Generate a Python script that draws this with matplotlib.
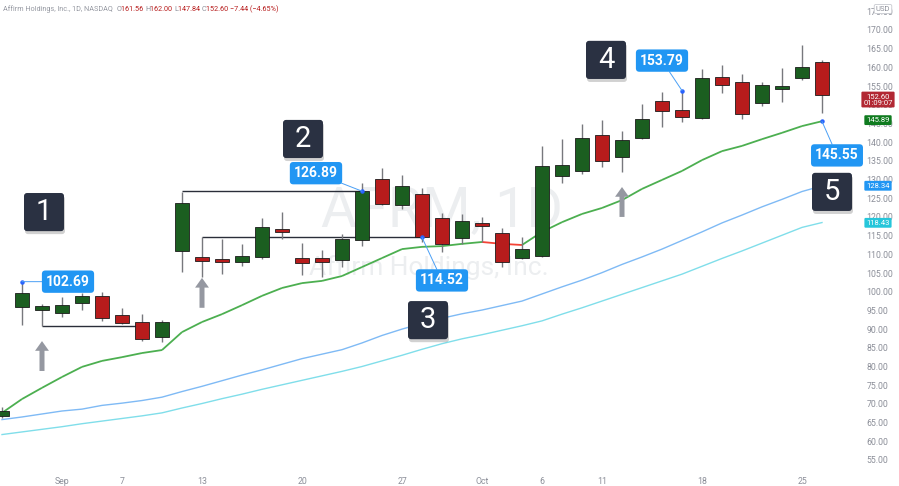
import matplotlib
matplotlib.use("Agg")
import matplotlib.pyplot as plt
import numpy as np
from matplotlib.collections import LineCollection
from matplotlib.patches import FancyBboxPatch

plt.rcParams["font.family"] = ["Roboto", "DejaVu Sans"]

# AFRM daily bars, 27 Aug - 26 Oct 2021
opens = [66.8, 95.9, 95.1, 94.4, 97.1, 98.9, 93.8, 92.0, 88.0, 110.9,
         109.2, 108.8, 107.9, 109.2, 116.9, 108.9, 109.1, 108.5, 113.8, 130.1,
         123.1, 126.1, 119.8, 114.5, 118.3, 115.8, 109.1, 109.6, 131.0, 132.3,
         142.0, 136.1, 141.2, 151.1, 148.6, 146.55, 157.4, 156.2, 150.55, 154.1,
         157.1, 161.56]
highs = [69.2, 102.69, 96.6, 98.6, 99.7, 99.9, 95.6, 94.0, 92.4, 126.7,
         114.52, 114.0, 112.7, 119.8, 121.2, 113.0, 111.2, 115.4, 129.0, 133.0,
         131.2, 127.7, 121.1, 120.7, 119.9, 117.1, 114.7, 139.0, 140.8, 144.8,
         145.9, 143.0, 150.2, 153.5, 153.79, 159.6, 160.6, 158.2, 156.2, 159.8,
         166.0, 162.0]
lows = [66.2, 91.1, 90.83, 93.2, 95.1, 92.3, 91.4, 86.9, 86.6, 105.4,
        104.0, 104.8, 106.9, 108.8, 114.0, 104.5, 104.0, 106.7, 112.2, 123.1,
        122.1, 113.4, 110.7, 112.8, 113.4, 106.7, 108.7, 109.4, 129.2, 131.5,
        133.4, 131.9, 140.8, 144.1, 145.5, 146.3, 153.2, 146.1, 149.8, 150.7,
        156.6, 147.84]
closes = [68.0, 99.7, 96.3, 96.5, 98.9, 92.9, 91.6, 87.4, 92.0, 123.6,
          108.3, 107.9, 109.5, 117.4, 116.1, 107.6, 107.9, 114.0, 126.89, 123.4,
          128.3, 114.52, 112.8, 119.0, 117.7, 107.9, 111.4, 133.6, 133.8, 141.1,
          135.0, 140.6, 146.1, 148.4, 146.6, 157.1, 155.2, 147.6, 155.2, 155.0,
          160.04, 152.6]

# moving averages
ma_fast = [67.6, 71.3, 74.3, 77.2, 79.9, 81.5, 82.5, 83.6, 84.4, 89.2,
           91.9, 94.0, 96.4, 98.9, 101.0, 102.3, 102.9, 104.2, 106.6, 109.0,
           111.4, 112.0, 112.2, 112.8, 113.3, 112.8, 112.5, 116.0, 118.6, 120.8,
           122.4, 124.5, 127.5, 129.9, 132.3, 135.2, 137.6, 139.0, 140.8, 142.5,
           144.3, 145.6]
ma_mid = [65.8, 66.5, 67.3, 68.1, 68.6, 69.6, 70.2, 70.9, 71.8, 73.3,
          74.7, 76.2, 77.7, 79.1, 80.6, 82.1, 83.3, 84.5, 86.3, 88.3,
          90.0, 91.5, 92.9, 94.1, 95.1, 96.3, 97.5, 99.4, 101.3, 103.1,
          105.1, 107.3, 109.3, 111.4, 113.7, 116.0, 118.4, 120.5, 122.7, 124.7,
          126.8, 128.3]
ma_slow = [61.8, 62.5, 63.2, 63.9, 64.7, 65.4, 66.1, 66.8, 67.6, 68.9,
           70.1, 71.4, 72.6, 73.9, 75.1, 76.3, 77.5, 78.7, 80.0, 81.5,
           83.0, 84.6, 86.1, 87.4, 88.5, 89.7, 90.9, 92.2, 94.0, 95.7,
           97.5, 99.3, 101.1, 102.9, 104.7, 106.8, 108.9, 110.9, 113.0, 115.1,
           117.2, 118.5]

tick_bars = [3, 6, 10, 15, 20, 24, 27, 30, 35, 40]
tick_labels = ["Sep", "7", "13", "20", "27", "Oct", "6", "11", "18", "25"]

# drawn levels: start bar, end bar, price
level_start = [2, 9, 10]
level_end = [7, 18, 21]
level_price = [90.83, 126.89, 114.52]

# price callouts
callout_bar = [1, 18, 21, 34, 41]
callout_price = [102.69, 126.89, 114.52, 153.79, 145.55]
callout_offset = [(46, 0), (-46, 18), (20, -43), (-20, 30), (15, -34)]  # pixels

# numbered boxes (bar, price)
step_labels = ["1", "2", "3", "4", "5"]
step_bar = [2.1, 15.05, 21.3, 30.2, 41.5]
step_price = [121.3, 140.85, 92.4, 162.0, 126.7]

# up arrows (bar, top, bottom)
arrow_bar = [2, 10, 31]
arrow_top = [86.8, 103.7, 128.0]
arrow_bottom = [78.8, 95.7, 120.0]

# right scale value tags
tag_text = ["152.60\n01:09:07", "145.89", "128.34", "118.43"]
tag_price = [151.4, 145.89, 128.34, 118.43]
tag_color = ["#b22833", "#0f7b1f", "#2196f3", "#26c6da"]

GREEN = "#1b5e20"
RED = "#b71c1c"
GRAY = "#8c8f99"

fig = plt.figure(figsize=(8.99, 4.86), dpi=100)
ax = fig.add_axes([0, 16 / 486, 858 / 899, 470 / 486])

x = np.arange(len(opens))
o = np.array(opens)
c = np.array(closes)
up = c >= o

# watermark
ax.text(0.515, 0.551, "AFRM, 1D", transform=ax.transAxes, fontsize=40,
        color="#eceef0", ha="center", va="center", zorder=0)
ax.text(0.50, 0.43, "Affirm Holdings, Inc.", transform=ax.transAxes, fontsize=19,
        color="#eceef0", ha="center", va="center", zorder=0)

# moving averages
ax.plot(x, ma_slow, color="#80deea", lw=1, zorder=1)
ax.plot(x, ma_mid, color="#7fbaf5", lw=1, zorder=1)
pts = np.column_stack([x, ma_fast])
segs = np.stack([pts[:-1], pts[1:]], axis=1)
seg_cols = ["#4caf50" if d >= 0 else "#f44336" for d in np.diff(ma_fast)]
ax.add_collection(LineCollection(segs, colors=seg_cols, linewidths=1.3, zorder=1))

# levels
ax.hlines(level_price, level_start, level_end, color="#2a2e39", lw=1, zorder=1.5)

# candles
ax.vlines(x, lows, highs, color="#77787d", lw=1, zorder=2)
body = np.maximum(np.abs(c - o), 0.5)
ax.bar(x, body, bottom=np.minimum(o, c), width=0.72,
       color=[GREEN if u else RED for u in up], edgecolor="#1b1b1b",
       linewidth=0.6, zorder=3)

# arrows
for b, t, btm in zip(arrow_bar, arrow_top, arrow_bottom):
    ax.annotate("", xy=(b, t), xytext=(b, btm),
                arrowprops=dict(width=3.6, headwidth=10, headlength=7,
                                fc="#9598a1", ec="none", shrink=0), zorder=4)

# price callouts
for b, p, (dx, dy) in zip(callout_bar, callout_price, callout_offset):
    ax.plot(b, p, "o", color="#2962ff", ms=2.2, zorder=5)
    ax.annotate(f"{p:.2f}", xy=(b, p), xytext=(dx, dy), textcoords="offset pixels",
                ha="center", va="center", fontsize=10, fontweight="bold", color="white",
                bbox=dict(boxstyle="round,pad=0.3,rounding_size=0.25", fc="#2196f3", ec="none"),
                arrowprops=dict(arrowstyle="-", color="#4a9ff5", lw=0.7,
                                shrinkA=0, shrinkB=0), zorder=6)

# numbered boxes
bw, bh = 2.0, 10.2
asp = 0.26745 * 20
for s, b, p in zip(step_labels, step_bar, step_price):
    sh = FancyBboxPatch((b - bw / 2 + 0.05, p - bh / 2 - 0.8), bw, bh,
                        boxstyle="round,pad=0,rounding_size=0.15", mutation_aspect=asp,
                        fc="black", ec="none", alpha=0.18, zorder=6)
    ax.add_patch(sh)
    box = FancyBboxPatch((b - bw / 2, p - bh / 2), bw, bh,
                         boxstyle="round,pad=0,rounding_size=0.15", mutation_aspect=asp,
                         fc="#2a3142", ec="none", zorder=7)
    ax.add_patch(box)
    ax.text(b, p, s, ha="center", va="center", fontsize=21, color="white", zorder=8)

# axes
ax.set_xlim(-0.1, 42.8)
ax.set_ylim(52.32, 178.02)
for sp in ax.spines.values():
    sp.set_visible(False)
ax.yaxis.tick_right()
yt = np.arange(55, 176, 5)
ax.set_yticks(yt)
ax.set_yticklabels([f"{v:.2f}" for v in yt])
ax.set_xticks(tick_bars)
ax.set_xticklabels(tick_labels)
ax.tick_params(axis="y", length=0, pad=6, labelsize=6.3, labelcolor=GRAY)
ax.tick_params(axis="x", length=0, pad=5, labelsize=6.3, labelcolor=GRAY)

for t, p, col in zip(tag_text, tag_price, tag_color):
    ax.text(1.0233, p, t, transform=ax.get_yaxis_transform(), ha="center", va="center",
            fontsize=5.5, color="white", linespacing=1.0, clip_on=False, zorder=9,
            bbox=dict(boxstyle="round,pad=0.25,rounding_size=0.15", fc=col, ec="none"))

fig.text(883 / 899, 1 - 9 / 486, "USD", fontsize=5.5, color=GRAY, ha="center", va="center",
         bbox=dict(boxstyle="round,pad=0.2,rounding_size=0.2", fc="white", ec="#c8cad0", lw=0.6))

# header line, each piece placed right after the previous one
pieces = [("O", GRAY), ("161.56 ", RED), ("H", GRAY), ("162.00 ", RED),
          ("L", GRAY), ("147.84 ", RED), ("C", GRAY), ("152.60 ", RED),
          ("\u22127.44 (\u22124.65%)", RED)]
prev = fig.text(3 / 899, 1 - 11 / 486, "Affirm Holdings, Inc., 1D, NASDAQ  ",
                fontsize=5.2, color="#9598a1", va="baseline", ha="left")
for txt, col in pieces:
    prev = ax.annotate(txt, xy=(1, 0), xycoords=prev, fontsize=5.2, color=col,
                       va="bottom", ha="left", annotation_clip=False)

fig.savefig("out.png", dpi=100)
